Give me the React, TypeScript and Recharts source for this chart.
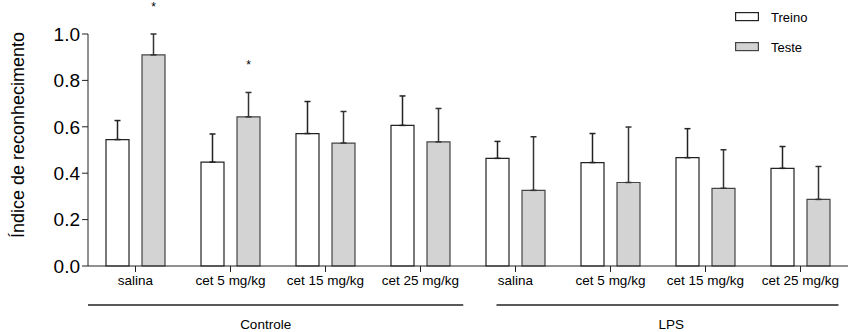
import React from "react";
import { BarChart, Bar, XAxis, YAxis, ErrorBar, Legend } from "recharts";

// groups on the x axis (two treatment blocks of four doses)
const CATEGORIES = [
  "salina",
  "cet 5 mg/kg",
  "cet 15 mg/kg",
  "cet 25 mg/kg",
  "salina",
  "cet 5 mg/kg",
  "cet 15 mg/kg",
  "cet 25 mg/kg",
];
const TREINO = [0.545, 0.448, 0.571, 0.606, 0.464, 0.446, 0.467, 0.421];
const TREINO_ERR = [0.082, 0.121, 0.138, 0.127, 0.073, 0.125, 0.125, 0.094];
const TESTE = [0.91, 0.643, 0.53, 0.535, 0.326, 0.36, 0.335, 0.287];
const TESTE_ERR = [0.09, 0.105, 0.136, 0.144, 0.231, 0.239, 0.166, 0.142];
const SIGNIFICANT = [true, true, false, false, false, false, false, false];
const Y_TICKS = [0, 0.2, 0.4, 0.6, 0.8, 1.0];

// group brackets under the axis, in category units
const GROUPS = ["Controle", "LPS"];
const GROUP_ANCHOR = [0, 4];
const GROUP_START = [0, 4.3];
const GROUP_END = [3.95, 7.9];
const GROUP_LABEL_AT = [1.87, 6.14];

const SERIES = [
  { key: "treino", name: "Treino", fill: "#ffffff", stroke: "#222" },
  { key: "teste", name: "Teste", fill: "#d3d3d3", stroke: "#444" },
];

const W = 848;
const H = 332;
const LEFT = 88;
const UNIT = (W - LEFT) / CATEGORIES.length;

const data = CATEGORIES.map((name, i) => ({
  key: String(i),
  name,
  treino: TREINO[i],
  treinoErr: [0, TREINO_ERR[i]],
  teste: TESTE[i],
  testeErr: [0, TESTE_ERR[i]],
}));

const renderStar = (props: any) => {
  const { x, y, width, height, value, index } = props;
  if (!SIGNIFICANT[index]) return <g />;
  const base = y + height;
  const top = base - ((value + TESTE_ERR[index]) / value) * height;
  return (
    <text x={x + width / 2} y={top - 23} textAnchor="middle" fontSize={12} fill="#000">
      *
    </text>
  );
};

const GroupTick = (props: any) => {
  const { x, y, index } = props;
  const g = GROUP_ANCHOR.indexOf(index);
  if (g < 0) return <g />;
  // x is the centre of the anchor category band
  const at = (u: number) => x + (u - GROUP_ANCHOR[g] - 0.5) * UNIT;
  return (
    <g>
      <line x1={at(GROUP_START[g])} x2={at(GROUP_END[g])} y1={y + 9} y2={y + 9} stroke="#222" strokeWidth={1.3} />
      <text x={at(GROUP_LABEL_AT[g])} y={y + 33} textAnchor="middle" fontSize={13.5} fill="#000">
        {GROUPS[g]}
      </text>
    </g>
  );
};

const YLabel = () => (
  <text transform="translate(24,135) rotate(-90)" textAnchor="middle" fontSize={18} fill="#000">
    Índice de reconhecimento
  </text>
);

const LegendContent = () => (
  <div style={{ fontSize: 13 }}>
    {SERIES.map((s) => (
      <div key={s.key} style={{ display: "flex", alignItems: "center", height: 30 }}>
        <svg width={24} height={10} style={{ marginRight: 12 }}>
          <rect x={0.6} y={0.6} width={22.8} height={8} fill={s.fill} stroke={s.stroke} strokeWidth={1.2} />
        </svg>
        <span>{s.name}</span>
      </div>
    ))}
  </div>
);

export default function App() {
  return (
    <div
      style={{
        position: "absolute",
        top: 0,
        left: 0,
        width: W,
        height: H,
        background: "#fff",
        fontFamily: "'Liberation Sans', Arial, sans-serif",
      }}
    >
      <BarChart
        width={W}
        height={H}
        data={data}
        margin={{ top: 34, right: 0, bottom: 0, left: 0 }}
        barSize={23}
        barGap={13}
      >
        <XAxis
          xAxisId="cat"
          dataKey="key"
          interval={0}
          height={30}
          tickSize={6}
          tickMargin={3}
          tickFormatter={(_v: any, i: number) => CATEGORIES[i]}
          tick={{ fontSize: 13.5, fill: "#000" }}
          stroke="#222"
        />
        <XAxis
          xAxisId="grp"
          dataKey="key"
          interval={0}
          axisLine={false}
          tickLine={false}
          tickSize={0}
          tickMargin={0}
          height={36}
          tick={<GroupTick />}
        />
        <YAxis
          width={LEFT}
          domain={[0, 1]}
          ticks={Y_TICKS}
          tickFormatter={(v: number) => v.toFixed(1)}
          tickSize={6}
          tickMargin={2}
          tick={{ fontSize: 19, fill: "#000" }}
          stroke="#222"
          label={YLabel}
        />
        <Legend
          layout="vertical"
          align="center"
          verticalAlign="middle"
          content={<LegendContent />}
          wrapperStyle={{ top: 2, left: 735, width: "auto" }}
        />
        <Bar
          xAxisId="cat"
          dataKey="treino"
          name="Treino"
          fill="#ffffff"
          stroke="#222"
          strokeWidth={1.2}
          isAnimationActive={false}
        >
          <ErrorBar dataKey="treinoErr" direction="y" width={3} stroke="#222" strokeWidth={1.5} />
        </Bar>
        <Bar
          xAxisId="cat"
          dataKey="teste"
          name="Teste"
          fill="#d3d3d3"
          stroke="#444"
          strokeWidth={1.2}
          isAnimationActive={false}
          label={renderStar}
        >
          <ErrorBar dataKey="testeErr" direction="y" width={3} stroke="#333" strokeWidth={1.5} />
        </Bar>
      </BarChart>
    </div>
  );
}
